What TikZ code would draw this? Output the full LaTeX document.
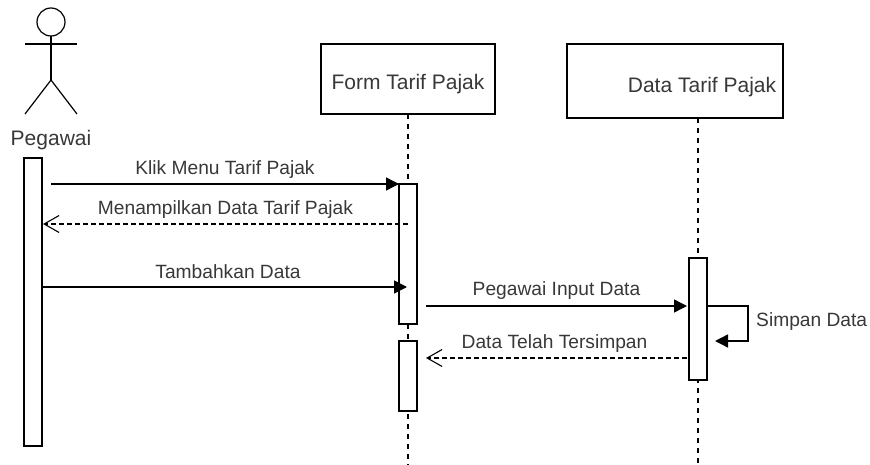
\documentclass[tikz,border=0pt]{standalone}
\usepackage{fontspec}
\setmainfont{Liberation Sans}
\usetikzlibrary{arrows.meta,positioning}
\definecolor{labelgray}{gray}{0.22}
\tikzset{
    lifebox/.style={draw,fill=white,line width=1.2pt,inner sep=0pt,outer sep=0pt},
    activation/.style={lifebox,minimum width=18pt},
    label/.style={text=labelgray,inner sep=0pt,font=\fontsize{19.2}{22}\selectfont},
    headlabel/.style={label,font=\fontsize{21}{24}\selectfont},
    lifeline/.style={line width=1.2pt,dash pattern=on 5pt off 5pt},
    syncarrow/.style={line width=1.4pt,-{Triangle[length=13pt,width=13pt]}},
    returnarrow/.style={line width=1.1pt,dash pattern=on 5pt off 3pt,-{Straight Barb[length=15pt,width=17pt]}}
}

\begin{document}
\begin{tikzpicture}[x=1pt,y=-1pt]
    \useasboundingbox (0,0) rectangle (870,465);

    % Actor.
    \node[draw,circle,line width=1.2pt,minimum size=28pt,inner sep=0pt,outer sep=0pt] (head) at (51,22) {};
    \coordinate (hip) at (51,80);
    \coordinate (armL) at (25,44);
    \coordinate (armR) at (77,44);
    \coordinate (legL) at (25,114);
    \coordinate (legR) at (77,114);
    \draw[line width=1.2pt] (head.south) -- (hip);
    \draw[line width=1.2pt] (armL) -- (armR);
    \draw[line width=1.2pt] (legL) -- (hip) -- (legR);
    \node[headlabel] (pegawai) at (51,140) {Pegawai};

    % Lifeline heads.
    \node[lifebox,minimum width=174pt,minimum height=70pt] (form) at (408,79) {};
    \node[headlabel] (formText) at (408,84) {Form Tarif Pajak};
    \node[lifebox,minimum width=216pt,minimum height=74pt] (data) at (675,81) {};
    \node[headlabel] (dataText) at (702,87) {Data Tarif Pajak};

    % Lifelines.
    \coordinate (formEnd) at (408,465);
    \coordinate (dataTop) at (698,118);
    \coordinate (dataEnd) at (698,465);
    \draw[lifeline] (form.south) -- (formEnd);
    \draw[lifeline] (dataTop) -- (dataEnd);

    % Activation bars.
    \node[activation,minimum height=288pt] (actPegawai) at (33,302) {};
    \node[activation,minimum height=140pt] (actFormA) at (408,254) {};
    \node[activation,minimum height=70pt] (actFormB) at (408,376) {};
    \node[activation,minimum height=122pt] (actData) at (698,319) {};

    % Messages.
    \coordinate (klikStart) at (51,184);
    \draw[syncarrow] (klikStart) -- (actFormA.north west) node[midway,above=5pt,label]{Klik Menu Tarif Pajak};

    \coordinate (tampilStart) at (408,224);
    \coordinate (tampilEnd) at (43,224);
    \draw[returnarrow] (tampilStart) -- (tampilEnd) node[midway,above=5pt,label]{Menampilkan Data Tarif Pajak};

    \coordinate (tambahStart) at (43,287);
    \coordinate (tambahEnd) at (407,287);
    \draw[syncarrow] (tambahStart) -- (tambahEnd) node[midway,above=8pt,label,xshift=3pt]{Tambahkan Data};

    \coordinate (inputStart) at (426,306);
    \coordinate (inputEnd) at (687,306);
    \draw[syncarrow] (inputStart) -- (inputEnd) node[midway,above=6pt,label]{Pegawai Input Data};

    % Self message.
    \coordinate (simpanStart) at (706,306);
    \coordinate (simpanEnd) at (715,341);
    \coordinate (simpanCorner) at (748,306);
    \draw[syncarrow] (simpanStart) -- (simpanCorner) |- (simpanEnd);
    \node[label,anchor=west] (simpan) at (756,322) {Simpan Data};

    \coordinate (telahStart) at (687,358);
    \coordinate (telahEnd) at (426,358);
    \draw[returnarrow] (telahStart) -- (telahEnd) node[midway,above=5pt,label,xshift=-2pt]{Data Telah Tersimpan};
\end{tikzpicture}
\end{document}
